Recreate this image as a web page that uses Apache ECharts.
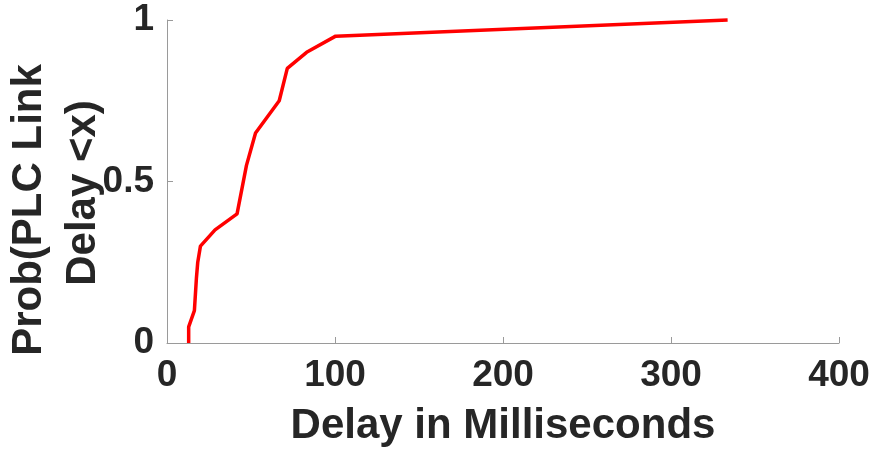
<!DOCTYPE html>
<html>
<head>
<meta charset="utf-8">
<script src="https://cdn.jsdelivr.net/npm/echarts@6/dist/echarts.min.js"></script>
<style>html,body{margin:0;padding:0;background:#fff}#c{width:875px;height:456px}</style>
</head>
<body>
<div id="c"></div>
<script>
var delayMs = [12.9, 12.9, 16.3, 17.5, 18.3, 19.9, 28.6, 41.7, 47.3, 52.7, 66.8, 71.6, 83.1, 100.4, 333.7];
var prob    = [0.00, 0.05, 0.10, 0.20, 0.25, 0.30, 0.35, 0.40, 0.55, 0.65, 0.75, 0.85, 0.90, 0.95, 1.00];
var xTicks = [0, 100, 200, 300, 400];
var yTicks = [0, 0.5, 1];
var xTitle = 'Delay in Milliseconds';
var yTitleLines = ['Prob(PLC Link', 'Delay <x)'];

var chart = echarts.init(document.getElementById('c'), null, {renderer: 'canvas'});
var FONT = 'Liberation Sans, Arial, Helvetica, sans-serif';
var axisColor = '#9a9a9a';
var textColor = '#262626';
var pts = delayMs.map(function (x, i) { return [x, prob[i]]; });

chart.setOption({
  animation: false,
  grid: {left: 167, right: 36, top: 20, bottom: 113, containLabel: false},
  xAxis: {
    type: 'value', min: 0, max: 400, interval: 100,
    axisLine: {show: true, lineStyle: {color: axisColor, width: 1}},
    axisTick: {show: true, inside: true, length: 6, lineStyle: {color: axisColor}},
    splitLine: {show: false},
    axisLabel: {
      color: textColor, fontFamily: FONT, fontWeight: 'bold', fontSize: 37, margin: 14,
      formatter: function (v) { return xTicks.indexOf(v) >= 0 ? String(v) : ''; }
    },
    name: xTitle, nameLocation: 'middle', nameGap: 62,
    nameTextStyle: {color: textColor, fontFamily: FONT, fontWeight: 'bold', fontSize: 42}
  },
  yAxis: {
    type: 'value', min: 0, max: 1, interval: 0.5,
    axisLine: {show: true, lineStyle: {color: axisColor, width: 1}},
    axisTick: {show: true, inside: true, length: 6, lineStyle: {color: axisColor}},
    splitLine: {show: false},
    axisLabel: {
      color: textColor, fontFamily: FONT, fontWeight: 'bold', fontSize: 37, margin: 13,
      formatter: function (v) { return yTicks.indexOf(v) >= 0 ? String(v) : ''; }
    }
  },
  graphic: [
    {type: 'text', x: 29, y: 210, rotation: Math.PI / 2,
     style: {text: yTitleLines[0], fill: textColor, font: 'bold 42px ' + FONT, align: 'center', verticalAlign: 'middle'}},
    {type: 'text', x: 83, y: 193, rotation: Math.PI / 2,
     style: {text: yTitleLines[1], fill: textColor, font: 'bold 42px ' + FONT, align: 'center', verticalAlign: 'middle'}}
  ],
  series: [{
    type: 'line', data: pts, showSymbol: false, symbol: 'none',
    lineStyle: {color: '#ff0000', width: 3.5}, clip: false
  }]
});
</script>
</body>
</html>
